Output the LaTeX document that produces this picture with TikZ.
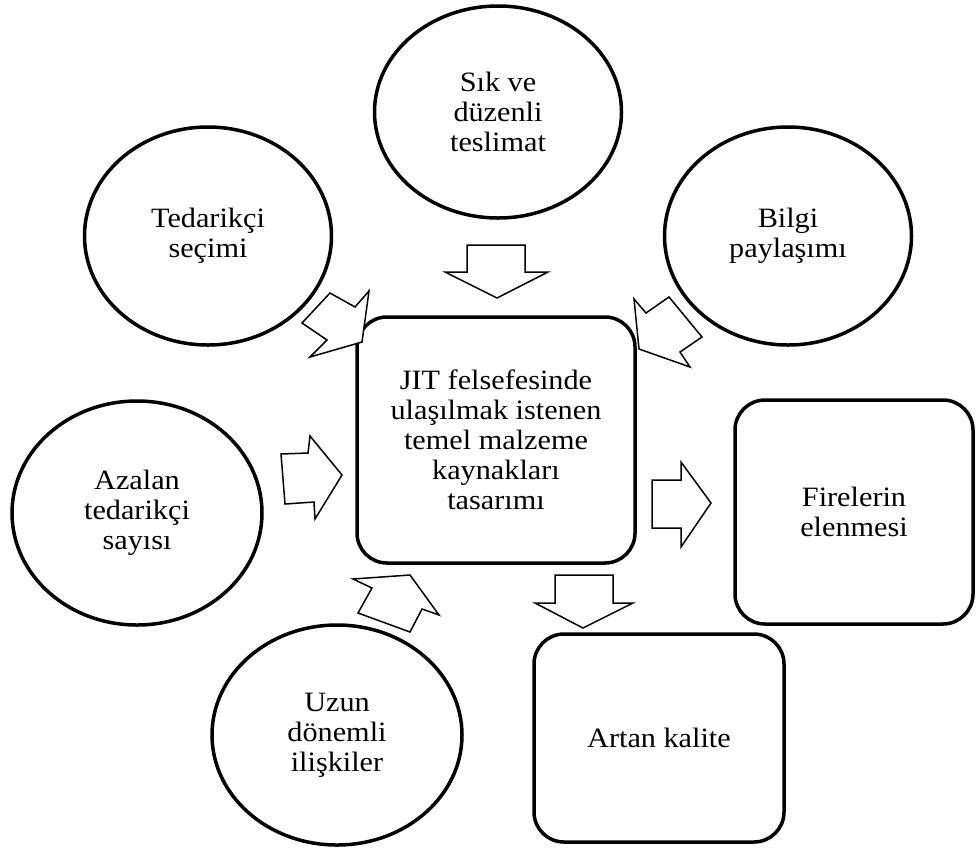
\documentclass[tikz,border=0pt]{standalone}
\usepackage{fontspec}
\setmainfont{Liberation Serif}[FakeStretch=1.08]
\usetikzlibrary{shapes.geometric}
\begin{document}
\begin{tikzpicture}[x=1pt,y=-1pt,
  txt/.style={font=\fontsize{28}{30}\selectfont, align=center},
  oval/.style={ellipse, draw=black, line width=3.5pt, inner sep=0pt, txt},
  rbox/.style={rectangle, rounded corners=30pt, draw=black, line width=3.5pt, inner sep=0pt, txt},
  blockarrow/.style={draw=black, fill=white, line width=1.5pt, line join=miter}]
\useasboundingbox (0,0) rectangle (976,847);
% ellipses
\node[oval, minimum width=247pt, minimum height=212pt] (sik) at (498,112) {Sık ve\\düzenli\\teslimat};
\node[oval, minimum width=247pt, minimum height=218pt] (ted) at (208,236) {Tedarikçi\\seçimi};
\node[oval, minimum width=247pt, minimum height=218pt] (bil) at (788,236) {Bilgi\\paylaşımı};
\node[oval, minimum width=250pt, minimum height=224pt] (aza) at (137,513) {Azalan\\tedarikçi\\sayısı};
\node[oval, minimum width=250pt, minimum height=220pt] (uzu) at (337,735) {Uzun\\dönemli\\ilişkiler};
% boxes
\node[rbox, minimum width=278pt, minimum height=246pt] (jit) at (496,440) {JIT felsefesinde\\ulaşılmak istenen\\temel malzeme\\kaynakları\\tasarımı};
\node[rbox, minimum width=238pt, minimum height=224pt] (fir) at (854,512) {Firelerin\\elenmesi};
\node[rbox, minimum width=250pt, minimum height=208pt] (art) at (659,738) {Artan kalite};
% block arrows
\draw[blockarrow] (467,245) -- (525,245) -- (525,272) -- (548,272) -- (497,298) -- (445,272) -- (467,272) -- cycle;
\draw[blockarrow] (302,323) -- (330,293) -- (355,307) -- (369,291) -- (362,342) -- (310,357) -- (327,340) -- cycle;
\draw[blockarrow] (634,299) -- (646,313) -- (669,297) -- (702,337) -- (680,352) -- (690,367) -- (639,349) -- cycle;
\draw[blockarrow] (281,454) -- (308,453) -- (310,436) -- (342,475) -- (315,519) -- (314,502) -- (285,504) -- cycle;
\draw[blockarrow] (652,480) -- (681,480) -- (681,462) -- (711,503) -- (681,547) -- (681,528) -- (652,528) -- cycle;
\draw[blockarrow] (353,579) -- (410,575) -- (439,615) -- (422,609) -- (410,632) -- (358,613) -- (372,588) -- cycle;
\draw[blockarrow] (555,575) -- (613,575) -- (613,603) -- (633,603) -- (583,628) -- (535,603) -- (555,603) -- cycle;
\end{tikzpicture}
\end{document}
